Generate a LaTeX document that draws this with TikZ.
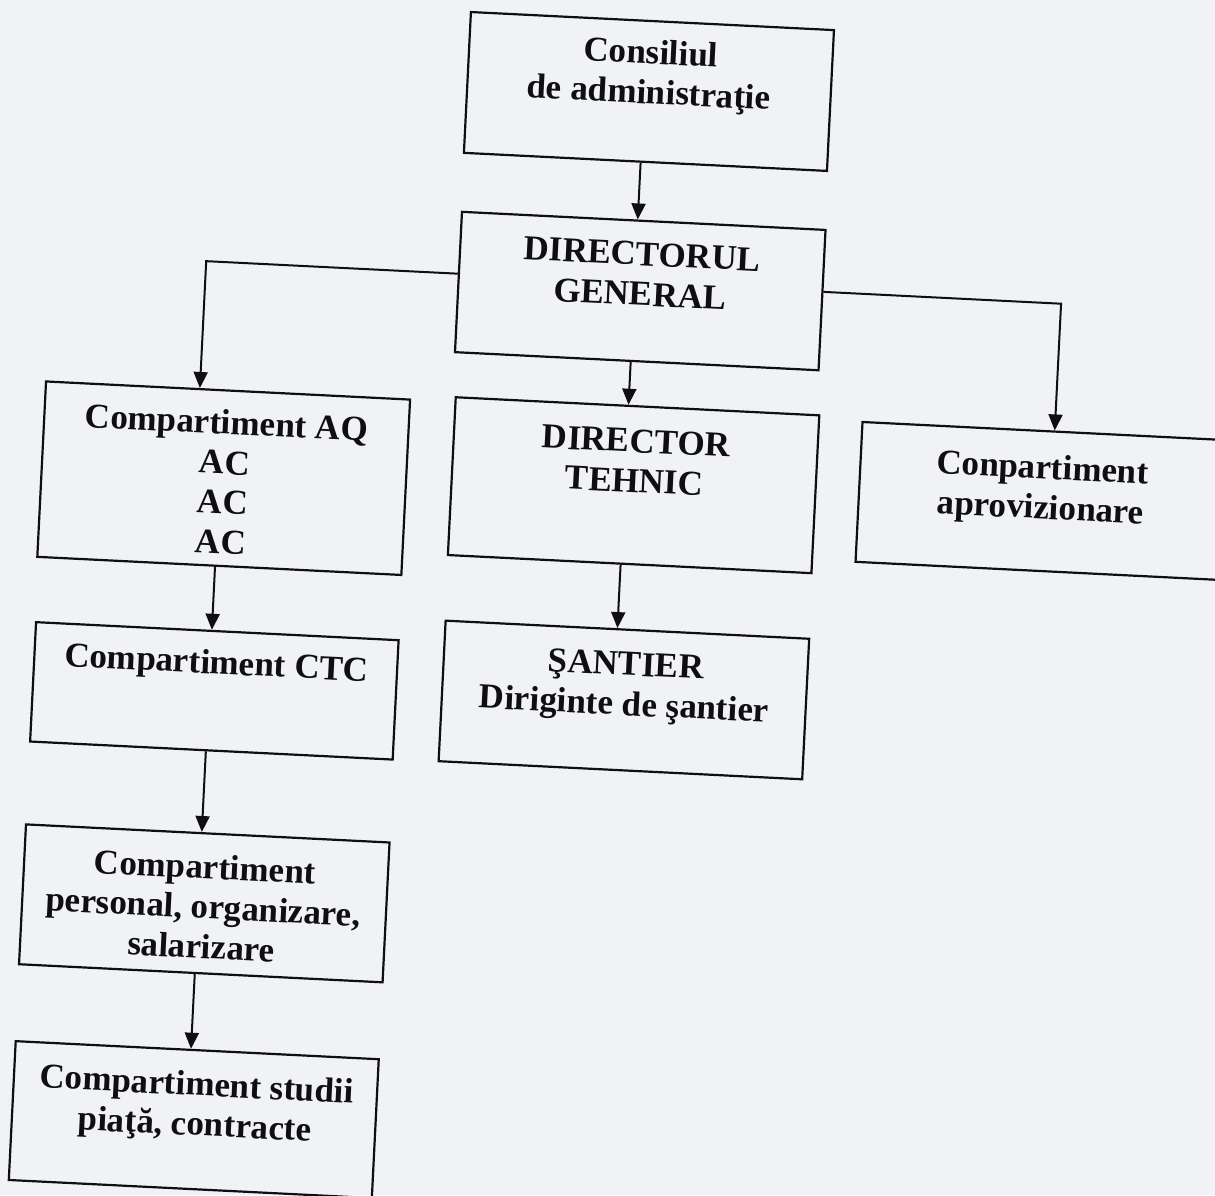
\documentclass[tikz,border=0pt]{standalone}
\usepackage{fontspec}
\setmainfont{Liberation Serif}
\usetikzlibrary{arrows.meta}
\definecolor{paper}{RGB}{240,242,246}
\definecolor{ink}{RGB}{15,15,17}
\begin{document}
\begin{tikzpicture}[x=1pt,y=-1pt,
  box/.style={draw=ink,line width=2.2pt,rectangle,inner sep=0pt},
  lbl/.style={inner sep=0pt,anchor=north,align=center,text=ink,font=\bfseries\fontsize{35}{40}\selectfont},
  arr/.style={draw=ink,line width=2pt,-{Triangle[width=14pt,length=16pt]}}]
\path[fill=paper,use as bounding box] (0,0) rectangle (1215,1195);
\clip (0,0) rectangle (1215,1195);
\begin{scope}[rotate around={-2.85:(607,597)},transform shape]
% boxes
\node[box,minimum width=363.5pt,minimum height=141pt]   (b1) at (623.75,90)    {};
\node[box,minimum width=364pt,minimum height=140.5pt]   (b2) at (625,289.75)   {};
\node[box,minimum width=364.5pt,minimum height=175.6pt] (b3) at (218.25,497.4) {};
\node[box,minimum width=364pt,minimum height=158pt]     (b4) at (628,484)      {};
\node[box,minimum width=364.5pt,minimum height=140pt]   (b5) at (1035.75,479.5){};
\node[box,minimum width=363pt,minimum height=119.5pt]   (b6) at (219.5,710.25) {};
\node[box,minimum width=364pt,minimum height=140.7pt]   (b7) at (629,699)      {};
\node[box,minimum width=364pt,minimum height=140pt]     (b8) at (220,923)      {};
\node[box,minimum width=363.5pt,minimum height=139pt]   (b9) at (220.25,1139.5){};
% texts
\node[lbl] (t1) at (623.75,34) {Consiliul\strut\\de administraţie\strut};
\node[lbl] (t2) at (625,236) {DIRECTORUL\strut\\GENERAL\strut};
\node[lbl] (t3) at (218.5,425) {Compartiment AQ\strut\\AC\strut\\AC\strut\\AC\strut};
\node[lbl] (t4) at (628.5,423) {DIRECTOR\strut\\TEHNIC\strut};
\node[lbl] (t5) at (1035.7,429) {Conpartiment\strut\\aprovizionare\strut};
\node[lbl] (t6) at (220.4,665) {Compartiment CTC\strut};
\node[lbl] (t7) at (629.5,646) {ŞANTIER\strut\\Diriginte de şantier\strut};
\node[lbl] (t8) at (219,870) {Compartiment\strut\\personal, organizare,\strut\\salarizare\strut};
\node[lbl] (t9) at (221.5,1087) {Compartiment studii\strut\\piaţă, contracte\strut};
% connector guides
\coordinate (ax)  at (619,0);
\coordinate (axl) at (214,0);
\coordinate (brl) at (190,281.5);
\coordinate (brr) at (1046,281.5);
% connectors
\draw[arr] (b1.south -| ax) -- (b2.north -| ax);
\draw[arr] (b2.south -| ax) -- (b4.north -| ax);
\draw[arr] (b4.south -| ax) -- (b7.north -| ax);
\draw[arr] (b2.west |- brl) -- (brl) -- (b3.north -| brl);
\draw[arr] (b2.east |- brr) -- (brr) -- (b5.north -| brr);
\draw[arr] (b3.south -| axl) -- (b6.north -| axl);
\draw[arr] (b6.south -| axl) -- (b8.north -| axl);
\draw[arr] (b8.south -| axl) -- (b9.north -| axl);
\end{scope}
\end{tikzpicture}
\end{document}
